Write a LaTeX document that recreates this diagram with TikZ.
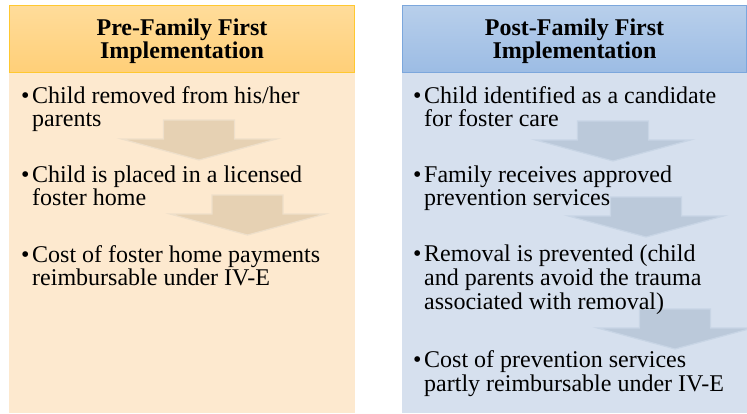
\documentclass[tikz,border=0pt]{standalone}
\usepackage{fontspec}
\setmainfont{Liberation Serif}
\definecolor{lhtop}{HTML}{FFDC9A}
\definecolor{lhbot}{HTML}{FFCF78}
\definecolor{lhborder}{HTML}{FFC830}
\definecolor{lbody}{HTML}{FDE9CF}
\definecolor{larrow}{HTML}{E6D1B3}
\definecolor{larrowedge}{HTML}{EEDFCA}
\definecolor{rhtop}{HTML}{B8CFEB}
\definecolor{rhbot}{HTML}{9CBCE4}
\definecolor{rhborder}{HTML}{7CA7DC}
\definecolor{rbody}{HTML}{D6E0EE}
\definecolor{rarrow}{HTML}{BBC9DA}
\definecolor{rarrowedge}{HTML}{C8D5E5}
\tikzset{
  headtxt/.style={anchor=base, inner sep=0pt, font=\fontsize{24}{24}\selectfont\bfseries},
  bodytxt/.style={anchor=base west, inner sep=0pt, font=\fontsize{24}{24}\selectfont},
  larrowshape/.style={fill=larrow, draw=larrowedge, line width=1.2pt, line join=miter},
  rarrowshape/.style={fill=rarrow, draw=rarrowedge, line width=1.2pt, line join=miter}
}
\newcommand{\blockarrow}[3]{%
  \path[#1] (#2-35.5,#3) -- (#2+35.5,#3) -- (#2+35.5,#3+19) -- (#2+77.5,#3+19)
    -- (#2,#3+40) -- (#2-77.5,#3+19) -- (#2-35.5,#3+19) -- cycle;}
\begin{document}
\begin{tikzpicture}[x=1pt,y=-1pt]
\useasboundingbox (0,0) rectangle (747,413);
% left panel
\fill[lbody] (9,72.5) rectangle (354.5,413);
\shade[top color=lhtop, bottom color=lhbot] (9,5.5) rectangle (354.5,72.5);
\draw[lhborder, line width=1pt] (9,5.5) rectangle (354.5,72.5);
% right panel
\fill[rbody] (402,72.5) rectangle (747,413);
\shade[top color=rhtop, bottom color=rhbot] (402,5.5) rectangle (746.5,72.5);
\draw[rhborder, line width=1pt] (402,5.5) rectangle (746.5,72.5);
% arrows
\blockarrow{larrowshape}{199}{120}
\blockarrow{larrowshape}{247.5}{195}
\blockarrow{rarrowshape}{613}{121}
\blockarrow{rarrowshape}{646}{197}
\blockarrow{rarrowshape}{675}{309}
% headers
\node[headtxt] (lh1) at (182,35) {Pre-Family First};
\node[headtxt] (lh2) at (182,58) {Implementation};
\node[headtxt] (rh1) at (574.5,35) {Post-Family First};
\node[headtxt] (rh2) at (574.5,58) {Implementation};
% left items
\node[bodytxt] (lb1) at (21,103) {•};
\node[bodytxt] (la1) at (32,103) {Child removed from his/her};
\node[bodytxt] (la2) at (32,126.5) {parents};
\node[bodytxt] (lb2) at (21,182) {•};
\node[bodytxt] (lc1) at (32,182) {Child is placed in a licensed};
\node[bodytxt] (lc2) at (32,205.5) {foster home};
\node[bodytxt] (lb3) at (21,262) {•};
\node[bodytxt] (ld1) at (32,262) {Cost of foster home payments};
\node[bodytxt] (ld2) at (32,285.5) {reimbursable under IV-E};
% right items
\node[bodytxt] (rb1) at (413,103) {•};
\node[bodytxt] (ra1) at (424,103) {Child identified as a candidate};
\node[bodytxt] (ra2) at (424,126.5) {for foster care};
\node[bodytxt] (rb2) at (413,182) {•};
\node[bodytxt] (rc1) at (424,182) {Family receives approved};
\node[bodytxt] (rc2) at (424,205.5) {prevention services};
\node[bodytxt] (rb3) at (413,261) {•};
\node[bodytxt] (rd1) at (424,261) {Removal is prevented (child};
\node[bodytxt] (rd2) at (424,285) {and parents avoid the trauma};
\node[bodytxt] (rd3) at (424,309) {associated with removal)};
\node[bodytxt] (rb4) at (413,367) {•};
\node[bodytxt] (re1) at (424,367) {Cost of prevention services};
\node[bodytxt] (re2) at (424,391) {partly reimbursable under IV-E};
\end{tikzpicture}
\end{document}
